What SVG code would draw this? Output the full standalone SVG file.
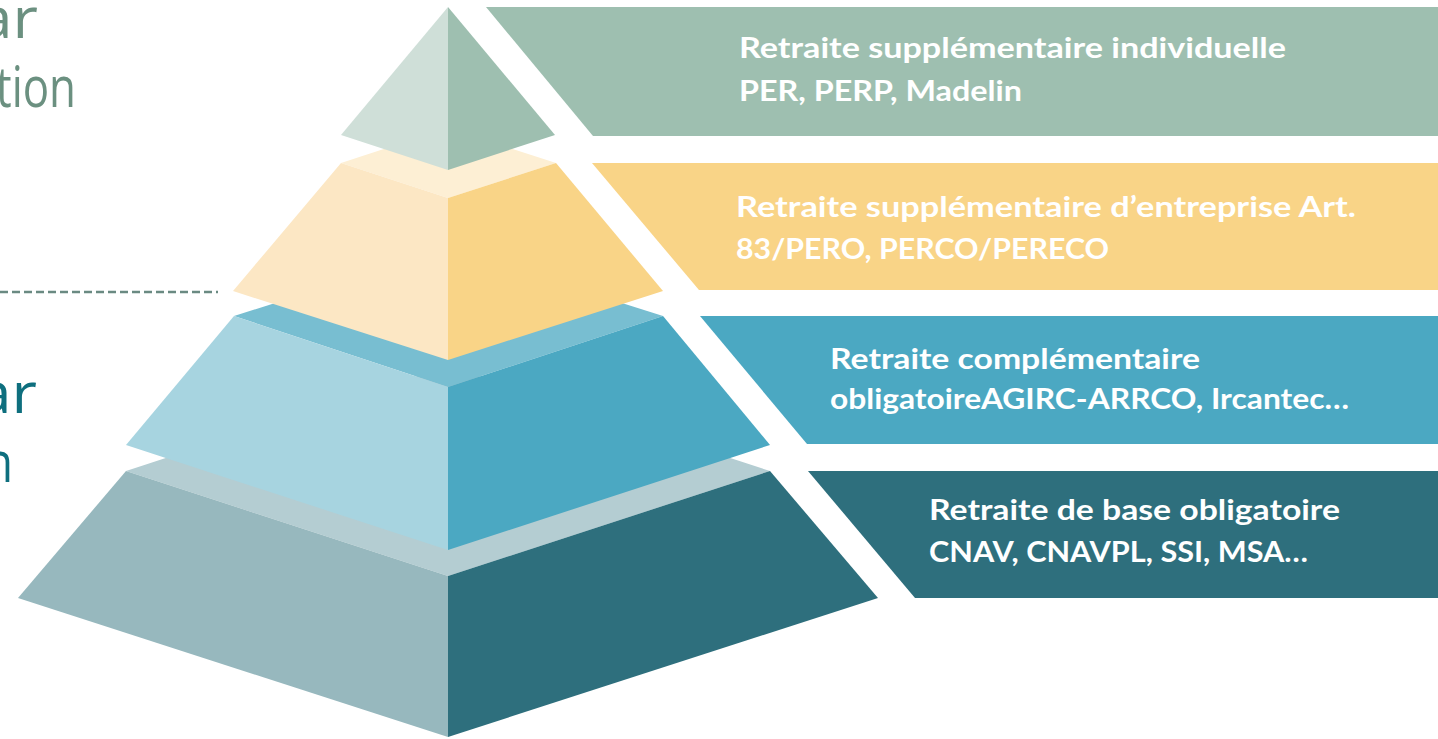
<svg xmlns="http://www.w3.org/2000/svg" width="1438" height="739" viewBox="0 0 1438 739">
<style>
.lbl{font-family:Lato,"Open Sans","Liberation Sans",sans-serif;font-weight:700;font-size:28px;fill:#ffffff}
.side{font-family:"Open Sans","Noto Sans","Liberation Sans",sans-serif;font-size:56px}
.g{fill:#6B9080}
.t{fill:#0E6F7E}
</style>
<rect width="1438" height="739" fill="#ffffff"/>
<g id="side-labels">
<text class="side g" x="-22" y="38" textLength="60" lengthAdjust="spacingAndGlyphs">ar</text>
<text class="side g" x="-4" y="107" textLength="80" lengthAdjust="spacingAndGlyphs">tion</text>
<text class="side t" x="-23" y="413" textLength="60" lengthAdjust="spacingAndGlyphs">ar</text>
<text class="side t" x="-15" y="482" textLength="28" lengthAdjust="spacingAndGlyphs">n</text>
</g>
<g id="connectors">
<line x1="0" y1="292" x2="218" y2="292" stroke="#6A8A82" stroke-width="2.5" stroke-dasharray="8,4"/>
</g>
<g id="tier4">
<polygon points="126,471 448,366 770,471 448,576" fill="#B4CDD2"/>
<polygon points="126,471 448,576 448,737 18,598" fill="#97B8BE"/>
<polygon points="448,576 770,471 878,598 448,737" fill="#2E6F7D"/>
</g>
<g id="tier3">
<polygon points="234,316 448,248 663,316 448,387" fill="#78BED1"/>
<polygon points="234,316 448,387 448,550 126,445" fill="#A7D4E0"/>
<polygon points="448,387 663,316 770,445 448,550" fill="#4BA8C2"/>
</g>
<g id="tier2">
<polygon points="341,163 448,128 556,163 448,198" fill="#FDEFD4"/>
<polygon points="341,163 448,198 448,360 233,291" fill="#FCE7C4"/>
<polygon points="448,198 556,163 663,291 448,360" fill="#F9D487"/>
</g>
<g id="tier1">
<polygon points="448,7 341,135 448,170" fill="#CFDFD8"/>
<polygon points="448,7 555,135 448,170" fill="#9EBFB0"/>
</g>
<g id="banner1">
<polygon points="486,7 1438,7 1438,136 593,136" fill="#9EBFB0"/>
<text class="lbl" x="739" y="58" textLength="547" lengthAdjust="spacingAndGlyphs">Retraite supplémentaire individuelle</text>
<text class="lbl" x="739" y="101" textLength="283" lengthAdjust="spacingAndGlyphs">PER, PERP, Madelin</text>
</g>
<g id="banner2">
<polygon points="592,163 1438,163 1438,290 699,290" fill="#F9D487"/>
<text class="lbl" x="736" y="217" textLength="620" lengthAdjust="spacingAndGlyphs">Retraite supplémentaire d’entreprise Art.</text>
<text class="lbl" x="736" y="259" textLength="373" lengthAdjust="spacingAndGlyphs">83/PERO, PERCO/PERECO</text>
</g>
<g id="banner3">
<polygon points="700,316 1438,316 1438,444 807,444" fill="#4BA8C2"/>
<text class="lbl" x="830" y="369" textLength="370" lengthAdjust="spacingAndGlyphs">Retraite complémentaire</text>
<text class="lbl" x="830" y="409" textLength="519" lengthAdjust="spacingAndGlyphs">obligatoireAGIRC-ARRCO, Ircantec…</text>
</g>
<g id="banner4">
<polygon points="808,471 1438,471 1438,598 915,598" fill="#2E6F7D"/>
<text class="lbl" x="929" y="520" textLength="411" lengthAdjust="spacingAndGlyphs">Retraite de base obligatoire</text>
<text class="lbl" x="929" y="562" textLength="379" lengthAdjust="spacingAndGlyphs">CNAV, CNAVPL, SSI, MSA…</text>
</g>
</svg>
